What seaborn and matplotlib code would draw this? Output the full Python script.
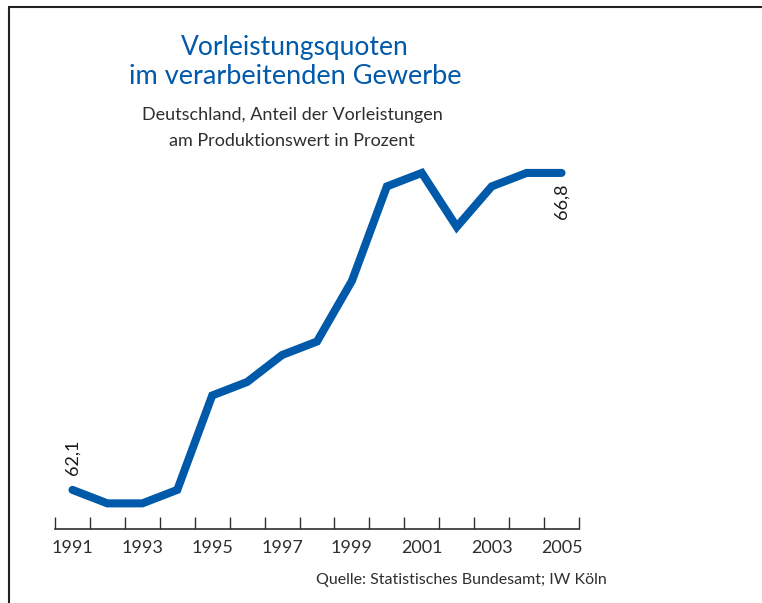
import pandas as pd
import numpy as np
import matplotlib.pyplot as plt
import seaborn as sns

# Data
years = list(range(1991, 2006))
quote = [62.1, 61.9, 61.9, 62.1, 63.5, 63.7, 64.1, 64.3, 65.2, 66.6, 66.8, 66.0, 66.6, 66.8, 66.8]
tick_labels = [str(y) if (y - 1991) % 2 == 0 else "" for y in years]

df = pd.DataFrame({"pos": np.arange(len(years)), "quote": quote})

sns.set_style("white")
plt.rcParams["font.family"] = ["Lato", "DejaVu Sans"]

blue = "#0059a9"
grey = "#2e2e2e"
W, H = 762, 603

fig = plt.figure(figsize=(W / 100, H / 100), dpi=100)
ax = fig.add_axes([55 / W, 1 - 529 / H, (579 - 55) / W, (529 - 150) / H])

sns.lineplot(data=df, x="pos", y="quote", ax=ax, color=blue, linewidth=5.8,
             solid_capstyle="round", solid_joinstyle="miter")

ax.set_xlim(-0.5, 14.5)
ax.set_ylim(61.52, 67.14)

# x axis: ticks at year boundaries, labels under year centres
ax.set_xticks(np.arange(-0.5, 15, 1))
ax.set_xticklabels([])
ax.set_xticks(np.arange(len(years)), minor=True)
ax.set_xticklabels(tick_labels, minor=True, fontsize=13, color=grey)
ax.tick_params(axis="x", which="major", bottom=True, direction="in", length=9, width=1, color=grey)
ax.tick_params(axis="x", which="minor", bottom=True, length=0, pad=8)
ax.set_yticks([])
ax.set_xlabel("")
ax.set_ylabel("")
for s in ["top", "right", "left"]:
    ax.spines[s].set_visible(False)
ax.spines["bottom"].set_color(grey)
ax.spines["bottom"].set_linewidth(1.2)

# value labels
ax.text(0, quote[0] + 0.22, "62,1", rotation=90, ha="center", va="bottom",
        fontsize=13, color="#1a1a1a")
ax.text(14, quote[-1] - 0.15, "66,8", rotation=90, ha="center", va="top",
        fontsize=13, color="#1a1a1a")

# titles
fig.text(295 / W, 1 - 47 / H, "Vorleistungsquoten", ha="center", va="center",
         fontsize=19, color=blue)
fig.text(295 / W, 1 - 77 / H, "im verarbeitenden Gewerbe", ha="center", va="center",
         fontsize=19.5, color=blue)
fig.text(292 / W, 1 - 115 / H, "Deutschland, Anteil der Vorleistungen", ha="center", va="center",
         fontsize=13, color=grey)
fig.text(292 / W, 1 - 141 / H, "am Produktionswert in Prozent", ha="center", va="center",
         fontsize=13, color=grey)
fig.text(607 / W, 1 - 580 / H, "Quelle: Statistisches Bundesamt; IW Köln", ha="right", va="center",
         fontsize=11.5, color=grey)

# frame lines (top and left)
fig.add_artist(plt.Line2D([9 / W, 1], [1 - 7 / H, 1 - 7 / H], color="#222222", linewidth=1.5))
fig.add_artist(plt.Line2D([9 / W, 9 / W], [0, 1 - 7 / H], color="#222222", linewidth=1.5))

fig.savefig("out.png", dpi=100)
